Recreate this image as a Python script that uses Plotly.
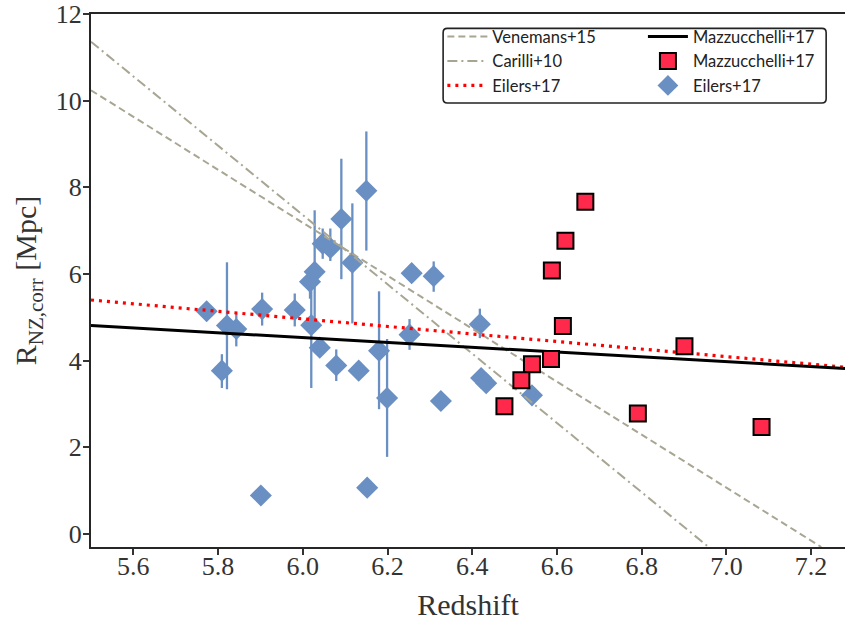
import plotly.graph_objects as go

# ---- data ----
eilers_z = [5.773, 5.809, 5.821, 5.843, 5.901, 5.904, 5.981, 6.017, 6.028, 6.020,
            6.040, 6.047, 6.065, 6.079, 6.091, 6.117, 6.132, 6.150, 6.152, 6.180,
            6.199, 6.252, 6.257, 6.309, 6.326, 6.418, 6.421, 6.433, 6.541]
eilers_r = [5.14, 3.77, 4.81, 4.73, 0.89, 5.19, 5.17, 5.82, 6.05, 4.82,
            4.30, 6.70, 6.60, 3.89, 7.27, 6.26, 3.77, 7.92, 1.07, 4.23,
            3.14, 4.60, 6.02, 5.95, 3.07, 4.84, 3.60, 3.48, 3.20]
eilers_err_up = [0.0, 0.38, 1.46, 0.36, 0.0, 0.38, 0.38, 0.34, 1.42, 1.30,
                 0.0, 0.35, 0.45, 0.37, 1.39, 1.37, 0.0, 1.37, 0.0, 1.37,
                 1.36, 0.36, 0.0, 0.34, 0.0, 0.36, 0.0, 0.0, 0.0]
eilers_err_lo = [0.0, 0.40, 1.47, 0.40, 0.0, 0.38, 0.38, 0.39, 1.20, 1.45,
                 0.0, 0.35, 0.30, 0.36, 1.39, 1.40, 0.0, 1.38, 0.0, 1.35,
                 1.36, 0.35, 0.0, 0.36, 0.0, 0.32, 0.0, 0.0, 0.0]
eilers_zerr = [0.0, 0.0, 0.0, 0.0, 0.0, 0.0, 0.0, 0.0, 0.018, 0.0,
               0.0, 0.0, 0.0, 0.0, 0.02, 0.0, 0.0, 0.0, 0.0, 0.021,
               0.021, 0.0, 0.0, 0.0, 0.0, 0.0, 0.0, 0.0, 0.0]

mazz_z = [6.667, 6.620, 6.588, 6.614, 6.901, 6.586, 6.541, 6.516, 6.476, 6.791, 7.083]
mazz_r = [7.67, 6.77, 6.08, 4.80, 4.33, 4.04, 3.92, 3.55, 2.95, 2.78, 2.47]

# relations (end points)
mazz_fit_z = [5.5, 7.28]
mazz_fit_r = [4.81, 3.82]
eilers_fit_z = [5.5, 7.28]
eilers_fit_r = [5.40, 3.85]
venemans_z = [5.5, 7.224]
venemans_r = [10.24, -0.3]
carilli_z = [5.5, 6.958]
carilli_r = [11.36, -0.3]

x_ticks = [5.6, 5.8, 6.0, 6.2, 6.4, 6.6, 6.8, 7.0, 7.2]
y_ticks = [0, 2, 4, 6, 8, 10, 12]

BLUE = "#6a8fc2"
RED = "#ff2a4b"
GRAY = "#a8a693"
LEGFONT = dict(family="Lato", size=16.5, color="#222")

fig = go.Figure()

fig.add_trace(go.Scatter(
    x=eilers_z, y=eilers_r, mode="markers", name="Eilers+17", legend="legend2", legendrank=3,
    marker=dict(symbol="diamond", size=17, color=BLUE, line=dict(width=0)),
    error_y=dict(type="data", array=eilers_err_up, arrayminus=eilers_err_lo,
                 color=BLUE, thickness=2.3, width=0),
    error_x=dict(type="data", array=eilers_zerr, color=BLUE, thickness=2.3, width=0),
))
fig.add_trace(go.Scatter(
    x=venemans_z, y=venemans_r, mode="lines", name="Venemans+15", legend="legend", legendrank=1,
    line=dict(color=GRAY, width=2, dash="7px,4px"),
))
fig.add_trace(go.Scatter(
    x=carilli_z, y=carilli_r, mode="lines", name="Carilli+10", legend="legend", legendrank=2,
    line=dict(color=GRAY, width=2, dash="10px,4px,2px,4px"),
))
fig.add_trace(go.Scatter(
    x=eilers_fit_z, y=eilers_fit_r, mode="lines", name="Eilers+17", legend="legend", legendrank=3,
    line=dict(color="red", width=3.2, dash="3px,5px"),
))
fig.add_trace(go.Scatter(
    x=mazz_fit_z, y=mazz_fit_r, mode="lines", name="Mazzucchelli+17", legend="legend2", legendrank=1,
    line=dict(color="black", width=3),
))
fig.add_trace(go.Scatter(
    x=mazz_z, y=mazz_r, mode="markers", name="Mazzucchelli+17", legend="legend2", legendrank=2,
    marker=dict(symbol="square", size=16, color=RED, line=dict(color="black", width=2)),
))

# legend frame (rounded rectangle in paper coordinates)
x0, x1, y0, y1 = 0.467, 0.975, 0.833, 0.973
rx, ry = 0.0055, 0.008
frame = (f"M {x0+rx},{y0} L {x1-rx},{y0} Q {x1},{y0} {x1},{y0+ry} "
         f"L {x1},{y1-ry} Q {x1},{y1} {x1-rx},{y1} L {x0+rx},{y1} "
         f"Q {x0},{y1} {x0},{y1-ry} L {x0},{y0+ry} Q {x0},{y0} {x0+rx},{y0} Z")
fig.add_shape(type="path", path=frame, xref="paper", yref="paper", layer="above",
              fillcolor="white", line=dict(color="#222", width=1.6))

serif = "Liberation Serif"
common_leg = dict(xanchor="left", yanchor="top", orientation="v", traceorder="normal",
                  font=LEGFONT, bgcolor="rgba(0,0,0,0)", borderwidth=0,
                  itemwidth=40, tracegroupgap=0)
fig.update_layout(
    width=845, height=623,
    margin=dict(l=91, r=0, t=11, b=76),
    paper_bgcolor="white", plot_bgcolor="white",
    showlegend=True,
    legend=dict(x=0.466, y=0.99, **common_leg),
    legend2=dict(x=0.732, y=0.99, **common_leg),
    xaxis=dict(
        range=[5.5, 7.28], tickvals=x_ticks, ticktext=[f"{v:.1f}" for v in x_ticks],
        ticks="outside", ticklen=6, tickwidth=1.5, tickcolor="#333",
        showline=True, linecolor="#262626", linewidth=2, mirror=True,
        showgrid=False, zeroline=False, ticklabelstandoff=-11,
        ticklabeloverflow="allow",
        tickfont=dict(family=serif, size=26, color="#333"),
        title=dict(text="Redshift", font=dict(family=serif, size=30, color="#333"), standoff=14),
    ),
    yaxis=dict(
        range=[-0.3, 12.0], tickvals=y_ticks, ticktext=[str(v) for v in y_ticks],
        ticks="outside", ticklen=6, tickwidth=1.5, tickcolor="#333",
        showline=True, linecolor="#262626", linewidth=2,
        showgrid=False, zeroline=False, ticklabelstandoff=-4,
        ticklabeloverflow="allow",
        tickfont=dict(family=serif, size=26, color="#333"),
        title=dict(text="R<sub>NZ,corr</sub> [Mpc]", font=dict(family=serif, size=30, color="#333"), standoff=10),
    ),
)

fig.write_html("out.html")
